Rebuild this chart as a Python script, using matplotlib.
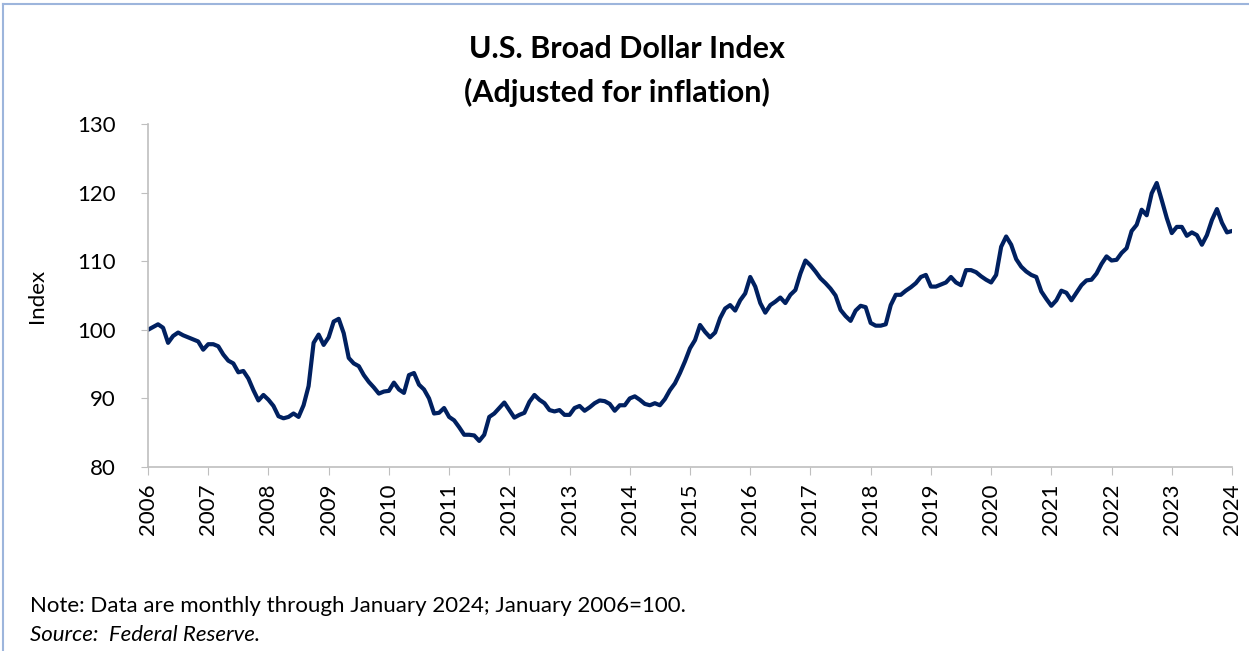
import matplotlib
matplotlib.use("Agg")
import matplotlib.pyplot as plt
from matplotlib.lines import Line2D

plt.rcParams['font.family'] = ['Lato', 'DejaVu Sans']

# monthly values, Jan 2006 .. Jan 2024 (Jan 2006 = 100)
y2006 = [100.0, 100.4, 100.8, 100.3, 98.1, 99.1, 99.6, 99.2, 98.9, 98.6, 98.3, 97.1]
y2007 = [97.9, 97.9, 97.6, 96.4, 95.5, 95.1, 93.8, 94.0, 92.9, 91.2, 89.7, 90.5]
y2008 = [89.8, 88.9, 87.4, 87.1, 87.3, 87.8, 87.3, 89.0, 91.8, 98.1, 99.3, 97.8]
y2009 = [98.9, 101.2, 101.6, 99.5, 95.9, 95.1, 94.7, 93.4, 92.4, 91.6, 90.7, 91.0]
y2010 = [91.1, 92.3, 91.3, 90.8, 93.4, 93.7, 92.0, 91.3, 90.0, 87.8, 87.9, 88.6]
y2011 = [87.3, 86.8, 85.8, 84.7, 84.7, 84.6, 83.8, 84.7, 87.3, 87.8, 88.6, 89.4]
y2012 = [88.3, 87.2, 87.6, 87.9, 89.5, 90.5, 89.8, 89.3, 88.3, 88.1, 88.3, 87.6]
y2013 = [87.6, 88.6, 88.9, 88.2, 88.7, 89.3, 89.7, 89.6, 89.2, 88.2, 89.0, 89.0]
y2014 = [90.0, 90.3, 89.8, 89.2, 89.0, 89.3, 89.0, 89.9, 91.2, 92.2, 93.7, 95.4]
y2015 = [97.3, 98.5, 100.7, 99.7, 98.9, 99.6, 101.7, 103.1, 103.6, 102.8, 104.3, 105.3]
y2016 = [107.7, 106.3, 103.9, 102.5, 103.6, 104.1, 104.7, 103.9, 105.1, 105.8, 108.2, 110.1]
y2017 = [109.4, 108.5, 107.5, 106.8, 106.0, 105.0, 102.9, 102.0, 101.3, 102.8, 103.5, 103.3]
y2018 = [101.0, 100.6, 100.6, 100.8, 103.6, 105.1, 105.1, 105.7, 106.2, 106.8, 107.7, 108.0]
y2019 = [106.3, 106.3, 106.6, 106.9, 107.7, 106.9, 106.5, 108.7, 108.7, 108.4, 107.8, 107.3]
y2020 = [106.9, 108.0, 112.1, 113.6, 112.4, 110.3, 109.2, 108.5, 108.0, 107.7, 105.6, 104.5]
y2021 = [103.5, 104.3, 105.7, 105.4, 104.3, 105.4, 106.5, 107.2, 107.3, 108.2, 109.6, 110.7]
y2022 = [110.1, 110.2, 111.2, 111.9, 114.4, 115.3, 117.5, 116.7, 119.9, 121.4, 118.9, 116.3]
y2023 = [114.1, 115.0, 115.0, 113.7, 114.2, 113.8, 112.4, 113.8, 116.0, 117.6, 115.6, 114.2]
y2024 = [114.4]

values = (y2006 + y2007 + y2008 + y2009 + y2010 + y2011 + y2012 + y2013 + y2014
          + y2015 + y2016 + y2017 + y2018 + y2019 + y2020 + y2021 + y2022 + y2023 + y2024)
months = [2006 + i / 12 for i in range(len(values))]
years = list(range(2006, 2025))

fig = plt.figure(figsize=(12.49, 6.51), dpi=100)
ax = fig.add_axes([148 / 1249, 1 - 467 / 651, (1232 - 148) / 1249, (467 - 124) / 651])

ax.plot(months, values, color='#002060', lw=3.0, solid_joinstyle='round')

ax.set_xlim(2006, 2024)
ax.set_ylim(80, 130)
ax.set_yticks([80, 90, 100, 110, 120, 130])
ax.set_xticks(years)
ax.set_xticklabels([str(y) for y in years], rotation=90, fontsize=16)
ax.tick_params(axis='y', labelsize=16, length=5, color='#BFBFBF', pad=18)
ax.tick_params(axis='x', length=6, color='#BFBFBF', pad=6)
for s in ['top', 'right']:
    ax.spines[s].set_visible(False)
for s in ['left', 'bottom']:
    ax.spines[s].set_color('#BFBFBF')
    ax.spines[s].set_linewidth(1.2)
ax.set_ylabel('Index', fontsize=16, labelpad=22)

fig.text(0.502, 1 - 49 / 651, 'U.S. Broad Dollar Index', ha='center', va='center',
         fontsize=22, fontweight='bold')
fig.text(0.494, 1 - 92 / 651, '(Adjusted for inflation)', ha='center', va='center',
         fontsize=22, fontweight='bold')

fig.text(30 / 1249, 1 - 606 / 651, 'Note: Data are monthly through January 2024; January 2006=100.',
         ha='left', va='center', fontsize=16)
fig.text(30 / 1249, 1 - 635 / 651, 'Source:  Federal Reserve.', ha='left', va='center',
         fontsize=16, style='italic')

# chart-area border (top and left edges visible)
fig.add_artist(Line2D([3 / 1249, 1], [1 - 4 / 651, 1 - 4 / 651], transform=fig.transFigure,
                      color='#9DB5DC', lw=1.5))
fig.add_artist(Line2D([3 / 1249, 3 / 1249], [0, 1 - 4 / 651], transform=fig.transFigure,
                      color='#9DB5DC', lw=1.5))

fig.savefig('out.png', dpi=100)
